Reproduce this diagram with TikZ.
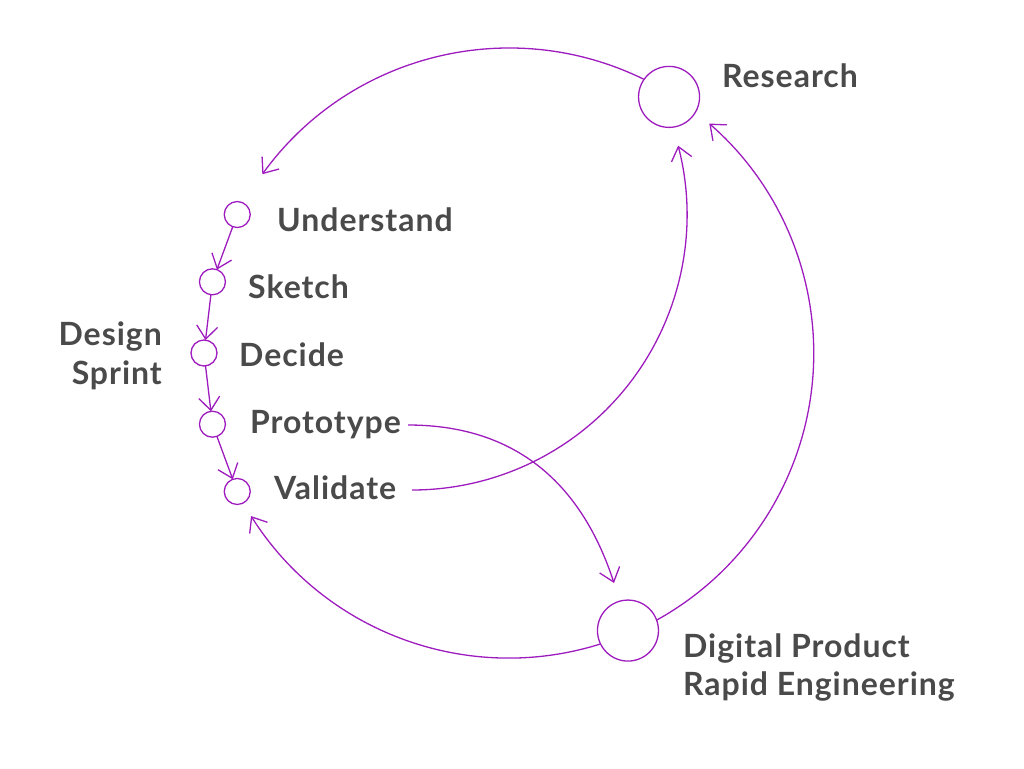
\documentclass[tikz,border=0pt]{standalone}
\usepackage{fontspec}
\setmainfont{Lato}[LetterSpace=3]
\usetikzlibrary{arrows.meta}
\definecolor{lineviolet}{RGB}{158,28,190}
\definecolor{textgray}{RGB}{74,74,74}
\begin{document}
\begin{tikzpicture}[x=1pt,y=1pt,
  link/.style={draw=lineviolet, line width=1.3pt, -{Straight Barb[length=13pt,width=21pt,line width=1.3pt]}},
  bigdot/.style={circle, draw=lineviolet, line width=1.3pt, minimum size=61pt, inner sep=0pt, outer sep=0pt},
  smalldot/.style={circle, draw=lineviolet, line width=1.3pt, minimum size=26pt, inner sep=0pt, outer sep=0pt},
  lab/.style={text=textgray, font=\fontsize{32}{37}\selectfont\bfseries, inner sep=0pt, anchor=base west}]
\useasboundingbox (0,0) rectangle (1024,-768);
\coordinate (O) at (509,-353);
% nodes on the big circle
\node[bigdot] (research) at ([shift={(58:302)}]O) {};
\node[bigdot] (digital) at ([shift={(-66.8:302)}]O) {};
\node[smalldot] (und) at ([shift={(153:305)}]O) {};
\node[smalldot] (ske) at ([shift={(166.5:305)}]O) {};
\node[smalldot] (dec) at ([shift={(180:305)}]O) {};
\node[smalldot] (pro) at ([shift={(193.5:305)}]O) {};
\node[smalldot] (val) at ([shift={(207:305)}]O) {};
% labels
\node[lab] (tresearch) at (722,-87) {Research};
\node[lab] (tund) at (277,-231) {Understand};
\node[lab] (tske) at (248,-298) {Sketch};
\node[lab] (tdec) at (239,-366) {Decide};
\node[lab] (tpro) at (250,-433) {Prototype};
\node[lab] (tval) at (274,-499) {Validate};
\node[lab, anchor=base east] (tds1) at (162,-345) {Design};
\node[lab, anchor=base east] (tds2) at (162,-384) {Sprint};
\node[lab] (tdp1) at (683,-657) {Digital Product};
\node[lab] (tdp2) at (683,-695) {Rapid Engineering};
% sprint chain
\draw[link] (und) -- (ske);
\draw[link] (ske) -- (dec);
\draw[link] (dec) -- (pro);
\draw[link] (pro) -- (val);
% big arcs
\draw[link] (research.145) arc[start angle=63.8, end angle=144.1, radius=305];
\draw[link] (digital.20) arc[start angle=-61, end angle=48.9, radius=305];
\draw[link] (digital.206) arc[start angle=-72.5, end angle=-147.7, radius=305];
% inner curves from the labels
\coordinate (vout) at (412,-490);
\coordinate (pout) at (408,-425);
\coordinate (ptip) at (614,-583);
\draw[link] (vout) arc[start angle=-90, end angle=14.6, radius=275];
\draw[link] (pout) .. controls (528,-425) and (586,-497.5) .. (ptip);
\end{tikzpicture}
\end{document}
